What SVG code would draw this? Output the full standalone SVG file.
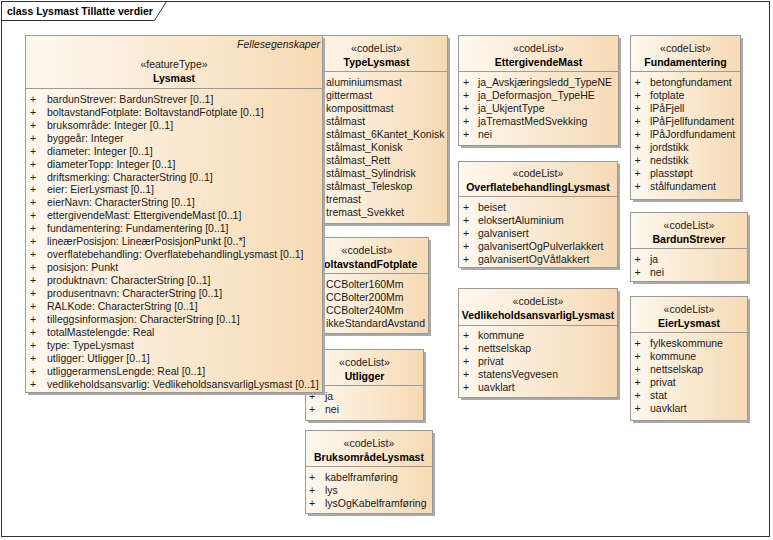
<svg xmlns="http://www.w3.org/2000/svg" width="773" height="540" viewBox="0 0 773 540">
<defs>
<linearGradient id="g" x1="0" y1="0" x2="1" y2="0">
<stop offset="0" stop-color="#FEF8EF"/>
<stop offset="1" stop-color="#F6DAB4"/>
</linearGradient>
</defs>
<style>
text{font-family:"Liberation Sans",Arial,sans-serif;font-size:10.5px;fill:#1a1a1a}
.b{font-weight:bold;fill:#000}
.it{font-style:italic}
.c{text-anchor:middle}
.r{text-anchor:end}
.box{fill:url(#g);stroke:#9a9a9a;stroke-width:1}
.sh{fill:#aaaaaa}
.dv{stroke:#9a9a9a;stroke-width:1}
.frame{fill:none;stroke:#333;stroke-width:1}
</style>
<rect x="0" y="0" width="773" height="540" fill="#fff"/>
<g id="frame">
<rect class="frame" x="1.5" y="1.5" width="768" height="535"/>
<path class="frame" d="M1.5,20.5 H154.5 L166.5,1.5"/>
<text class="b" x="7" y="15">class Lysmast Tillatte verdier</text>
</g>
<g id="connectors"/>

<g id="TypeLysmast">
<rect class="sh" x="308" y="38" width="142" height="188"/>
<rect class="box" x="305.5" y="35.5" width="142" height="188"/>
<text class="c" x="376.5" y="52">«codeList»</text>
<text class="b c" x="376.5" y="65.5">TypeLysmast</text>
<line class="dv" x1="305.5" y1="71.5" x2="447.5" y2="71.5"/>
<text x="326" y="86">aluminiumsmast</text>
<text x="326" y="99">gittermast</text>
<text x="326" y="112">komposittmast</text>
<text x="326" y="125">stålmast</text>
<text x="326" y="138">stålmast_6Kantet_Konisk</text>
<text x="326" y="151">stålmast_Konisk</text>
<text x="326" y="164">stålmast_Rett</text>
<text x="326" y="177">stålmast_Sylindrisk</text>
<text x="326" y="190">stålmast_Teleskop</text>
<text x="326" y="203">tremast</text>
<text x="326" y="216">tremast_Svekket</text>
</g>

<g id="BoltavstandFotplate">
<rect class="sh" x="308" y="240" width="123" height="96"/>
<rect class="box" x="305.5" y="237.5" width="123" height="96"/>
<text class="c" x="367" y="254">«codeList»</text>
<text class="b c" x="367" y="267.5">BoltavstandFotplate</text>
<line class="dv" x1="305.5" y1="273.5" x2="428.5" y2="273.5"/>
<text x="326" y="288">CCBolter160Mm</text>
<text x="326" y="301">CCBolter200Mm</text>
<text x="326" y="314">CCBolter240Mm</text>
<text x="326" y="327">ikkeStandardAvstand</text>
</g>

<g id="Utligger">
<rect class="sh" x="308" y="352" width="118" height="71"/>
<rect class="box" x="305.5" y="349.5" width="118" height="71"/>
<text class="c" x="364.5" y="366">«codeList»</text>
<text class="b c" x="364.5" y="379.5">Utligger</text>
<line class="dv" x1="305.5" y1="385.5" x2="423.5" y2="385.5"/>
<text class="c" x="312" y="400">+</text><text x="325" y="400">ja</text>
<text class="c" x="312" y="413">+</text><text x="325" y="413">nei</text>
</g>

<g id="BruksomradeLysmast">
<rect class="sh" x="308" y="433" width="127" height="83"/>
<rect class="box" x="305.5" y="430.5" width="127" height="83"/>
<text class="c" x="369" y="447">«codeList»</text>
<text class="b c" x="369" y="460.5">BruksområdeLysmast</text>
<line class="dv" x1="305.5" y1="466.5" x2="432.5" y2="466.5"/>
<text class="c" x="312" y="481">+</text><text x="325" y="481">kabelframføring</text>
<text class="c" x="312" y="494">+</text><text x="325" y="494">lys</text>
<text class="c" x="312" y="507">+</text><text x="325" y="507">lysOgKabelframføring</text>
</g>

<g id="Lysmast">
<rect class="sh" x="28" y="38" width="297" height="357"/>
<rect class="box" x="25.5" y="35.5" width="297" height="357"/>
<text class="it r" x="320" y="48">Fellesegenskaper</text>
<text class="c" x="174" y="68">«featureType»</text>
<text class="b c" x="174" y="81.5">Lysmast</text>
<line class="dv" x1="25.5" y1="88.5" x2="322.5" y2="88.5"/>
<g>
<text class="c" x="33" y="102.8">+</text><text x="47" y="102.8">bardunStrever: BardunStrever [0..1]</text>
<text class="c" x="33" y="115.75">+</text><text x="47" y="115.75">boltavstandFotplate: BoltavstandFotplate [0..1]</text>
<text class="c" x="33" y="128.7">+</text><text x="47" y="128.7">bruksområde: Integer [0..1]</text>
<text class="c" x="33" y="141.65">+</text><text x="47" y="141.65">byggeår: Integer</text>
<text class="c" x="33" y="154.6">+</text><text x="47" y="154.6">diameter: Integer [0..1]</text>
<text class="c" x="33" y="167.55">+</text><text x="47" y="167.55">diameterTopp: Integer [0..1]</text>
<text class="c" x="33" y="180.5">+</text><text x="47" y="180.5">driftsmerking: CharacterString [0..1]</text>
<text class="c" x="33" y="193.45">+</text><text x="47" y="193.45">eier: EierLysmast [0..1]</text>
<text class="c" x="33" y="206.4">+</text><text x="47" y="206.4">eierNavn: CharacterString [0..1]</text>
<text class="c" x="33" y="219.35">+</text><text x="47" y="219.35">ettergivendeMast: EttergivendeMast [0..1]</text>
<text class="c" x="33" y="232.3">+</text><text x="47" y="232.3">fundamentering: Fundamentering [0..1]</text>
<text class="c" x="33" y="245.25">+</text><text x="47" y="245.25">lineærPosisjon: LineærPosisjonPunkt [0..*]</text>
<text class="c" x="33" y="258.2">+</text><text x="47" y="258.2">overflatebehandling: OverflatebehandlingLysmast [0..1]</text>
<text class="c" x="33" y="271.15">+</text><text x="47" y="271.15">posisjon: Punkt</text>
<text class="c" x="33" y="284.1">+</text><text x="47" y="284.1">produktnavn: CharacterString [0..1]</text>
<text class="c" x="33" y="297.05">+</text><text x="47" y="297.05">produsentnavn: CharacterString [0..1]</text>
<text class="c" x="33" y="310">+</text><text x="47" y="310">RALKode: CharacterString [0..1]</text>
<text class="c" x="33" y="322.95">+</text><text x="47" y="322.95">tilleggsinformasjon: CharacterString [0..1]</text>
<text class="c" x="33" y="335.9">+</text><text x="47" y="335.9">totalMastelengde: Real</text>
<text class="c" x="33" y="348.85">+</text><text x="47" y="348.85">type: TypeLysmast</text>
<text class="c" x="33" y="361.8">+</text><text x="47" y="361.8">utligger: Utligger [0..1]</text>
<text class="c" x="33" y="374.75">+</text><text x="47" y="374.75">utliggerarmensLengde: Real [0..1]</text>
<text class="c" x="33" y="387.7">+</text><text x="47" y="387.7">vedlikeholdsansvarlig: VedlikeholdsansvarligLysmast [0..1]</text>
</g>
</g>

<g id="EttergivendeMast">
<rect class="sh" x="461" y="38" width="160" height="110"/>
<rect class="box" x="458.5" y="35.5" width="160" height="110"/>
<text class="c" x="538.5" y="52">«codeList»</text>
<text class="b c" x="538.5" y="65.5">EttergivendeMast</text>
<line class="dv" x1="458.5" y1="71.5" x2="618.5" y2="71.5"/>
<text class="c" x="466" y="86">+</text><text x="478" y="86">ja_Avskjæringsledd_TypeNE</text>
<text class="c" x="466" y="99">+</text><text x="478" y="99">ja_Deformasjon_TypeHE</text>
<text class="c" x="466" y="112">+</text><text x="478" y="112">ja_UkjentType</text>
<text class="c" x="466" y="125">+</text><text x="478" y="125">jaTremastMedSvekking</text>
<text class="c" x="466" y="138">+</text><text x="478" y="138">nei</text>
</g>

<g id="OverflatebehandlingLysmast">
<rect class="sh" x="461" y="164" width="159" height="106"/>
<rect class="box" x="458.5" y="161.5" width="159" height="106"/>
<text class="c" x="538" y="177">«codeList»</text>
<text class="b c" x="538" y="190.5">OverflatebehandlingLysmast</text>
<line class="dv" x1="458.5" y1="196.5" x2="617.5" y2="196.5"/>
<text class="c" x="466" y="211">+</text><text x="478" y="211">beiset</text>
<text class="c" x="466" y="224">+</text><text x="478" y="224">eloksertAluminium</text>
<text class="c" x="466" y="237">+</text><text x="478" y="237">galvanisert</text>
<text class="c" x="466" y="250">+</text><text x="478" y="250">galvanisertOgPulverlakkert</text>
<text class="c" x="466" y="263">+</text><text x="478" y="263">galvanisertOgVåtlakkert</text>
</g>

<g id="VedlikeholdsansvarligLysmast">
<rect class="sh" x="461" y="291" width="159" height="109"/>
<rect class="box" x="458.5" y="288.5" width="159" height="109"/>
<text class="c" x="538" y="305">«codeList»</text>
<text class="b c" x="538" y="318.5">VedlikeholdsansvarligLysmast</text>
<line class="dv" x1="458.5" y1="325.5" x2="617.5" y2="325.5"/>
<text class="c" x="466" y="339">+</text><text x="478" y="339">kommune</text>
<text class="c" x="466" y="352">+</text><text x="478" y="352">nettselskap</text>
<text class="c" x="466" y="365">+</text><text x="478" y="365">privat</text>
<text class="c" x="466" y="378">+</text><text x="478" y="378">statensVegvesen</text>
<text class="c" x="466" y="391">+</text><text x="478" y="391">uavklart</text>
</g>

<g id="Fundamentering">
<rect class="sh" x="633" y="38" width="110" height="164"/>
<rect class="box" x="630.5" y="35.5" width="110" height="164"/>
<text class="c" x="685.5" y="52">«codeList»</text>
<text class="b c" x="685.5" y="65.5">Fundamentering</text>
<line class="dv" x1="630.5" y1="71.5" x2="740.5" y2="71.5"/>
<text class="c" x="637.5" y="86">+</text><text x="650" y="86">betongfundament</text>
<text class="c" x="637.5" y="99">+</text><text x="650" y="99">fotplate</text>
<text class="c" x="637.5" y="112">+</text><text x="650" y="112">lPåFjell</text>
<text class="c" x="637.5" y="125">+</text><text x="650" y="125">lPåFjellfundament</text>
<text class="c" x="637.5" y="138">+</text><text x="650" y="138">lPåJordfundament</text>
<text class="c" x="637.5" y="151">+</text><text x="650" y="151">jordstikk</text>
<text class="c" x="637.5" y="164">+</text><text x="650" y="164">nedstikk</text>
<text class="c" x="637.5" y="177">+</text><text x="650" y="177">plasstøpt</text>
<text class="c" x="637.5" y="190">+</text><text x="650" y="190">stålfundament</text>
</g>

<g id="BardunStrever">
<rect class="sh" x="633" y="215" width="117" height="69"/>
<rect class="box" x="630.5" y="212.5" width="117" height="69"/>
<text class="c" x="689" y="229">«codeList»</text>
<text class="b c" x="689" y="242.5">BardunStrever</text>
<line class="dv" x1="630.5" y1="248.5" x2="747.5" y2="248.5"/>
<text class="c" x="637.5" y="263">+</text><text x="650" y="263">ja</text>
<text class="c" x="637.5" y="276">+</text><text x="650" y="276">nei</text>
</g>

<g id="EierLysmast">
<rect class="sh" x="633" y="299" width="117" height="124"/>
<rect class="box" x="630.5" y="296.5" width="117" height="124"/>
<text class="c" x="689" y="313">«codeList»</text>
<text class="b c" x="689" y="326.5">EierLysmast</text>
<line class="dv" x1="630.5" y1="332.5" x2="747.5" y2="332.5"/>
<text class="c" x="637.5" y="347">+</text><text x="650" y="347">fylkeskommune</text>
<text class="c" x="637.5" y="360">+</text><text x="650" y="360">kommune</text>
<text class="c" x="637.5" y="373">+</text><text x="650" y="373">nettselskap</text>
<text class="c" x="637.5" y="386">+</text><text x="650" y="386">privat</text>
<text class="c" x="637.5" y="399">+</text><text x="650" y="399">stat</text>
<text class="c" x="637.5" y="412">+</text><text x="650" y="412">uavklart</text>
</g>
</svg>
